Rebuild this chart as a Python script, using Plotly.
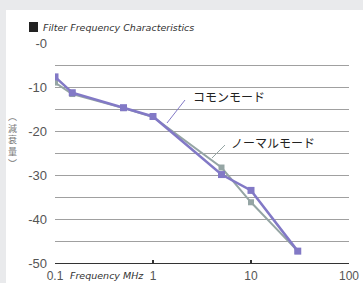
import plotly.graph_objects as go

# Data
freq_mhz = [0.1, 0.15, 0.5, 1, 5, 10, 30]
common_mode = [-7.7, -11.3, -14.7, -16.7, -29.9, -33.5, -47.3]
normal_mode = [-9.0, -11.6, -14.8, -16.8, -28.3, -36.2, -47.3]
y_tick_vals = [0, -5, -10, -15, -20, -25, -30, -35, -40, -45, -50]
y_tick_text = ["-0", "", "-10", "", "-20", "", "-30", "", "-40", "", "-50"]
x_tick_vals = [0.1, 1, 10, 100]
x_tick_text = ["0.1", "1", "10", "100"]
y_label_chars = ["︵", "減", "衰", "量", "︶"]

W, H = 363, 283
L, R, T, B = 55, 14, 43, 20
PW, PH = W - L - R, H - T - B

def px(x):
    return (x - L) / PW

def py(y):
    return (H - B - y) / PH

PURPLE = "#8279c6"
GREY = "#95a5a4"
BAND = "#e9eaec"

fig = go.Figure()
fig.add_trace(go.Scatter(x=freq_mhz, y=normal_mode, mode="lines+markers",
                         line=dict(color=GREY, width=2),
                         marker=dict(symbol="square", size=6, color=GREY),
                         showlegend=False, hoverinfo="skip"))
fig.add_trace(go.Scatter(x=freq_mhz, y=common_mode, mode="lines+markers",
                         line=dict(color=PURPLE, width=2.5),
                         marker=dict(symbol="square", size=7, color=PURPLE),
                         showlegend=False, hoverinfo="skip"))

shapes = [
    # white panel over grey page
    dict(type="rect", xref="paper", yref="paper", x0=px(6), x1=px(W + 5), y0=py(10), y1=py(H + 5),
         fillcolor="white", line=dict(width=0), layer="below"),
    # title square
    dict(type="rect", xref="paper", yref="paper", x0=px(29), x1=px(38), y0=py(32), y1=py(22),
         fillcolor="#222222", line=dict(width=0)),
    # leader lines
    dict(type="line", xref="paper", yref="paper", x0=px(185), y0=py(100), x1=px(167), y1=py(123),
         line=dict(color=PURPLE, width=1)),
    dict(type="line", xref="paper", yref="paper", x0=px(225), y0=py(145), x1=px(212), y1=py(158),
         line=dict(color=GREY, width=1)),
]

annotations = [
    dict(xref="paper", yref="paper", x=px(41), y=py(27.5), xanchor="left", yanchor="middle",
         text="<i>Filter Frequency Characteristics</i>", showarrow=False,
         font=dict(family="DejaVu Sans", size=9.5, color="#333333")),
    dict(xref="paper", yref="paper", x=px(68), y=py(275), xanchor="left", yanchor="middle",
         text="<i>Frequency MHz</i>", showarrow=False,
         font=dict(family="DejaVu Sans", size=9.5, color="#333333")),
    dict(xref="paper", yref="paper", x=px(191), y=py(96), xanchor="left", yanchor="middle",
         text="コモンモード", showarrow=False,
         font=dict(family="Noto Sans CJK JP", size=12, color="#222222")),
    dict(xref="paper", yref="paper", x=px(229), y=py(142), xanchor="left", yanchor="middle",
         text="ノーマルモード", showarrow=False,
         font=dict(family="Noto Sans CJK JP", size=12, color="#222222")),
    dict(xref="paper", yref="paper", x=px(12.5), y=py(140), xanchor="center", yanchor="middle",
         text="<br>".join(y_label_chars), showarrow=False,
         font=dict(family="Noto Sans CJK JP", size=9, color="#777777")),
]

fig.update_layout(
    width=W, height=H,
    margin=dict(l=L, r=R, t=T, b=B, pad=0, autoexpand=False),
    paper_bgcolor=BAND,
    plot_bgcolor="white",
    shapes=shapes,
    annotations=annotations,
    xaxis=dict(type="log", range=[-1, 2], tickvals=x_tick_vals, ticktext=x_tick_text,
               showgrid=False, zeroline=False, showline=True, linecolor="#333333", linewidth=1,
               ticks="inside", ticklen=3, tickwidth=2, tickcolor="#333333", ticklabelstandoff=2,
               automargin=False,
               tickfont=dict(family="Liberation Sans", size=12, color="#555555")),
    yaxis=dict(range=[-50, 0], tickvals=y_tick_vals, ticktext=y_tick_text,
               showgrid=True, gridcolor="#a0a0a0", gridwidth=1, zeroline=False, showline=False,
               ticks="", ticklabelstandoff=7, automargin=False,
               tickfont=dict(family="Liberation Sans", size=13, color="#555555")),
)

fig.write_html("out.html", config={"displayModeBar": False},
               post_script="document.body.style.margin='0';")
